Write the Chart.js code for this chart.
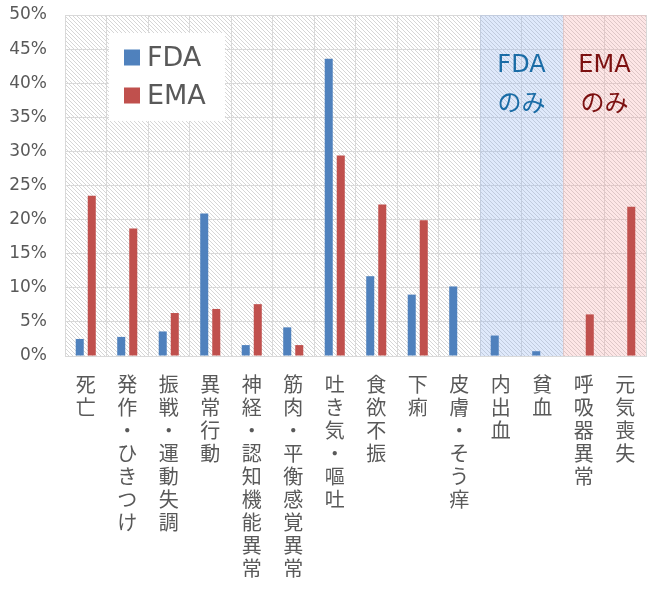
<!DOCTYPE html>
<html>
<head>
<meta charset="utf-8">
<script src="https://cdn.jsdelivr.net/npm/chart.js@4.4.1/dist/chart.umd.min.js"></script>
<style>
  html, body { margin: 0; padding: 0; background: #fff; }
  #wrap { width: 663px; height: 593px; }
</style>
</head>
<body>
<div id="wrap"><canvas id="myChart"></canvas></div>
<script>
const categories = ['死亡', '発作・ひきつけ', '振戦・運動失調', '異常行動', '神経・認知機能異常',
  '筋肉・平衡感覚異常', '吐き気・嘔吐', '食欲不振', '下痢', '皮膚・そう痒',
  '内出血', '貧血', '呼吸器異常', '元気喪失'];
const seriesNames = ['FDA', 'EMA'];
const fdaValues = [2.5, 2.8, 3.6, 20.9, 1.6, 4.2, 43.6, 11.7, 9.0, 10.2, 3.0, 0.7, 0, 0];
const emaValues = [23.5, 18.7, 6.3, 6.9, 7.6, 1.6, 29.4, 22.2, 19.9, 0, 0, 0, 6.1, 21.9];
const yTicks = [0, 5, 10, 15, 20, 25, 30, 35, 40, 45, 50];
const fdaOnly = ['内出血', '貧血'];
const emaOnly = ['呼吸器異常', '元気喪失'];
const noteLabels = [['FDA', 'のみ'], ['EMA', 'のみ']];

const latin = '"DejaVu Sans", "Noto Sans CJK JP", sans-serif';
const cjk = '"Noto Sans CJK JP", sans-serif';

function drawHatch(ctx, area, color) {
  ctx.save();
  ctx.beginPath();
  ctx.rect(area.left, area.top, area.right - area.left, area.bottom - area.top);
  ctx.clip();
  ctx.strokeStyle = color;
  ctx.lineWidth = 1;
  const h = area.bottom - area.top;
  ctx.beginPath();
  for (let k = -h; k < area.right - area.left; k += 4) {
    ctx.moveTo(area.left + k, area.top);
    ctx.lineTo(area.left + k + h, area.top + h);
  }
  ctx.stroke();
  ctx.restore();
}

function regionBox(chart, names) {
  const x = chart.scales.x;
  const a = chart.chartArea;
  const half = (x.getPixelForValue(1) - x.getPixelForValue(0)) / 2;
  const i0 = categories.indexOf(names[0]);
  const i1 = categories.indexOf(names[names.length - 1]);
  return {
    left: x.getPixelForValue(i0) - half,
    right: x.getPixelForValue(i1) + half,
    top: a.top,
    bottom: a.bottom
  };
}

const backgroundPlugin = {
  id: 'hatchBackground',
  beforeDraw(chart) {
    const ctx = chart.ctx;
    const a = chart.chartArea;
    ctx.save();
    ctx.fillStyle = '#ffffff';
    ctx.fillRect(a.left, a.top, a.right - a.left, a.bottom - a.top);
    ctx.restore();
    drawHatch(ctx, a, '#d6d6d6');
  },
  beforeDatasetsDraw(chart) {
    const ctx = chart.ctx;
    const regions = [
      { box: regionBox(chart, fdaOnly), fill: 'rgba(140,175,240,0.28)' },
      { box: regionBox(chart, emaOnly), fill: 'rgba(245,150,150,0.24)' }
    ];
    regions.forEach((r) => {
      ctx.save();
      ctx.fillStyle = r.fill;
      ctx.fillRect(r.box.left, r.box.top, r.box.right - r.box.left, r.box.bottom - r.box.top);
      ctx.restore();
    });
  },
  afterDatasetsDraw(chart) {
    const ctx = chart.ctx;
    const a = chart.chartArea;
    // region notes
    const notes = [
      { box: regionBox(chart, fdaOnly), lines: noteLabels[0], color: '#1a6ca6' },
      { box: regionBox(chart, emaOnly), lines: noteLabels[1], color: '#7c1010' }
    ];
    notes.forEach((n) => {
      const cx = (n.box.left + n.box.right) / 2;
      ctx.save();
      ctx.fillStyle = n.color;
      ctx.textAlign = 'center';
      ctx.textBaseline = 'middle';
      ctx.font = '24px ' + latin;
      ctx.fillText(n.lines[0], cx, a.top + 51);
      ctx.font = '24px ' + cjk;
      ctx.fillText(n.lines[1], cx, a.top + 87);
      ctx.restore();
    });
    // legend box
    const lx = a.left + 44, ly = a.top + 18;
    ctx.save();
    ctx.fillStyle = '#ffffff';
    ctx.fillRect(lx, ly, 116, 88);
    chart.data.datasets.forEach((ds, i) => {
      const cy = ly + 24.5 + i * 38;
      ctx.fillStyle = ds.backgroundColor;
      ctx.fillRect(lx + 15, cy - 8, 16, 16);
      ctx.fillStyle = '#595959';
      ctx.font = '27px ' + latin;
      ctx.textAlign = 'left';
      ctx.textBaseline = 'middle';
      ctx.fillText(ds.label, lx + 38, cy + 1);
    });
    ctx.restore();
  }
};

function initChart(target) {
  const data = {
    labels: categories.map((c) => c.split('')),
    datasets: [
      { label: seriesNames[0], data: fdaValues, backgroundColor: '#4f81bd' },
      { label: seriesNames[1], data: emaValues, backgroundColor: '#c0504d' }
    ]
  };
  const config = {
    type: 'bar',
    data: data,
    options: {
      responsive: true,
      maintainAspectRatio: false,
      animation: false,
      layout: { padding: { top: 15, right: 17, left: 0, bottom: 0 } },
      datasets: { bar: { categoryPercentage: 0.58, barPercentage: 0.667 } },
      plugins: { legend: { display: false }, tooltip: { enabled: false } },
      scales: {
        x: {
          grid: { color: '#d9d9d9', drawTicks: false, offset: true },
          border: { color: '#d9d9d9' },
          ticks: {
            autoSkip: false, maxRotation: 0, minRotation: 0, padding: 17,
            color: '#595959',
            font: { family: cjk, size: 20, lineHeight: 1.15 }
          },
          afterFit: (scale) => {
            scale.height = 237;
            scale.paddingLeft = 0;
            scale.paddingRight = 0;
          }
        },
        y: {
          min: yTicks[0], max: yTicks[yTicks.length - 1],
          grid: { color: '#d9d9d9', drawTicks: false },
          border: { color: '#d9d9d9' },
          afterBuildTicks: (scale) => { scale.ticks = yTicks.map((v) => ({ value: v })); },
          ticks: {
            padding: 18,
            color: '#595959',
            font: { family: latin, size: 17 },
            callback: (v) => v + '%'
          },
          afterFit: (scale) => {
            scale.width = 65;
            scale.paddingTop = 0;
            scale.paddingBottom = 0;
          }
        }
      }
    },
    plugins: [backgroundPlugin]
  };
  return new Chart(target, config);
}

document.addEventListener('DOMContentLoaded', () => {
  initChart(document.querySelector('#myChart'));
});
</script>
</body>
</html>
